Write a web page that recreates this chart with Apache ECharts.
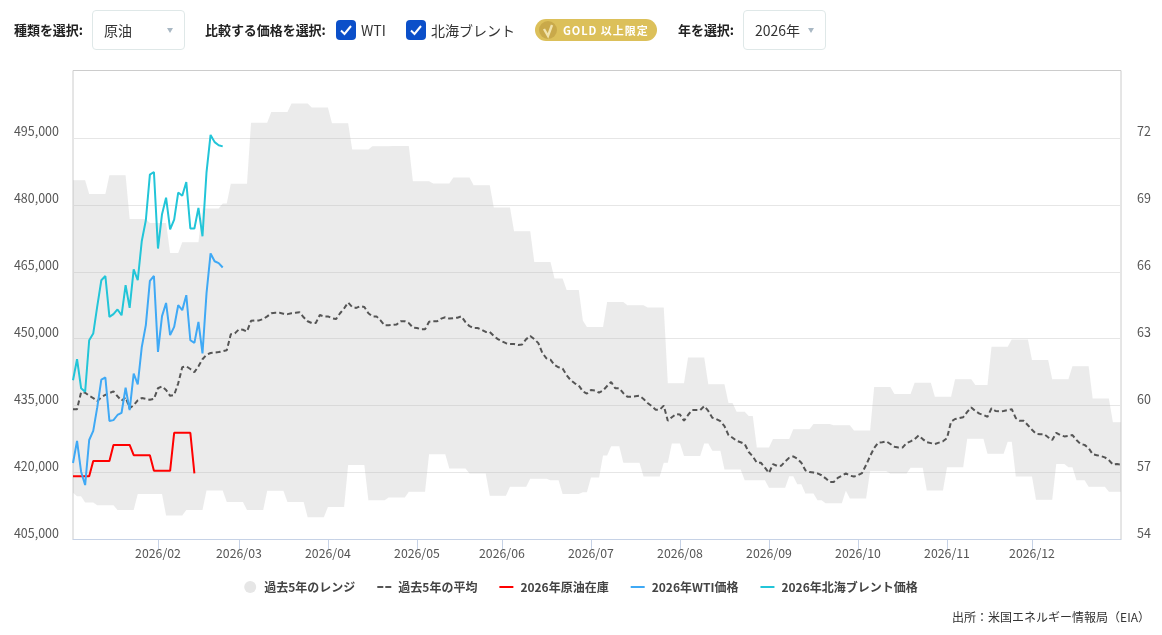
<!DOCTYPE html>
<html lang="ja"><head><meta charset="utf-8">
<script src="https://cdn.jsdelivr.net/npm/echarts@6/dist/echarts.min.js"></script>
<style>
html,body{margin:0;padding:0;background:#fff;width:1162px;height:635px;overflow:hidden;font-family:"Noto Sans CJK JP","Noto Sans",sans-serif;color:#222}
#chart{position:absolute;left:0;top:0;width:1162px;height:635px}
.t{position:absolute;white-space:nowrap;line-height:20px}
.b{font-weight:700;font-size:13px;top:20px;color:#222;letter-spacing:-.05px}
.sel{position:absolute;top:10px;height:38px;border:1px solid #dfe8e8;border-radius:4px;background:#fff}
.car{position:absolute;top:28px;width:0;height:0;border-left:3.5px solid transparent;border-right:3.5px solid transparent;border-top:5px solid #a9b8c4}
.n{font-size:14px;top:20px;color:#333}
.cb{position:absolute;top:20px;width:20px;height:20px;border-radius:4px;background:#0b4fc9}
.cb svg{display:block}
.pill{position:absolute;left:535px;top:19px;width:122px;height:22px;border-radius:11px;background:#dcc05a}
.pill span{position:absolute;left:28px;top:1px;font-size:11px;font-weight:700;color:#fff;line-height:20px;white-space:nowrap;letter-spacing:.95px}
.pill svg{position:absolute;left:3px;top:1px}
.src{position:absolute;right:12px;top:607px;font-size:12px;line-height:20px;color:#333;white-space:nowrap}
</style></head><body>
<div id="chart"></div>
<div class="t b" style="left:14px">種類を選択:</div>
<div class="sel" style="left:92px;width:91px"></div><div class="t n" style="left:104px">原油</div><div class="car" style="left:167px"></div>
<div class="t b" style="left:205px">比較する価格を選択:</div>
<div class="cb" style="left:336px"><svg width="20" height="20"><path d="M5 10.5l3.5 3.5 6.5-8" stroke="#fff" stroke-width="2" fill="none"/></svg></div>
<div class="t n" style="left:361px">WTI</div>
<div class="cb" style="left:406px"><svg width="20" height="20"><path d="M5 10.5l3.5 3.5 6.5-8" stroke="#fff" stroke-width="2" fill="none"/></svg></div>
<div class="t n" style="left:431px">北海ブレント</div>
<div class="pill"><svg width="20" height="20"><circle cx="10" cy="10" r="9" fill="#c9a94a"/><path d="M6 9l4 7 4-11" stroke="#f1e3ad" stroke-width="2.4" fill="none"/></svg><span>GOLD 以上限定</span></div>
<div class="t b" style="left:678px">年を選択:</div>
<div class="sel" style="left:743px;width:81px"></div><div class="t n" style="left:755px">2026年</div><div class="car" style="left:808px"></div>
<div class="src">出所：米国エネルギー情報局（EIA）</div>
<script>
const monthLabels = ['2026/01','2026/02','2026/03','2026/04','2026/05','2026/06','2026/07','2026/08','2026/09','2026/10','2026/11','2026/12'];
const monthStarts = [0,21,41,63,85,106,128,150,172,194,216,237];
const dayCount = 260;
const leftTicks = [405000,420000,435000,450000,465000,480000,495000];
const rightTicks = [54,57,60,63,66,69,72];

const rangeHigh = [
485500,485500,485500,485500,
482400,482400,482400,482400,482400,
486600,486600,486600,486600,486600,
476800,476800,476800,476800,476800,
475900,475900,475900,475900,475900,
469200,469200,469200,
471600,471600,471600,471600,471600,
479200,479200,479200,479200,479200,
480300,480300,
484700,484700,484700,484700,484700,
498400,498400,498400,498400,498400,
500800,500800,500800,500800,500800,
502700,502700,502700,502700,502700,
501800,501800,501800,501800,501800,
498300,498300,498300,498300,498300,
492400,492400,492400,492400,492400,
493100,493100,493100,493100,493100,
493200,493200,493200,493200,493200,
485300,485300,485300,485300,485300,
484800,484800,484800,484800,484800,
486100,486100,486100,486100,486100,
484400,484400,484400,484400,484400,
479400,479400,479400,479400,479400,
474100,474100,474100,474100,474100,
467200,467200,467200,467200,467200,
463500,463500,463500,
460900,460900,460900,460900,
454100,
452600,452600,452600,452600,452600,
458200,458200,458200,458200,458200,
457500,457500,457500,457500,457500,
457000,457000,457000,457000,457000,
440000,440000,440000,440000,440000,
445800,445800,445800,445800,445800,
439800,439800,439800,439800,439800,
435600,435600,
433600,433600,433600,
432700,432700,
425600,425600,425600,425600,
427500,427500,427500,427500,427500,
429700,429700,429700,429700,429700,
430900,430900,430900,430900,430900,
430600,430600,430600,430600,430600,
429400,429400,429400,429400,429400,
439200,439200,439200,439200,439200,
437600,437600,437600,437600,437600,
440100,440100,440100,440100,440100,
437000,437000,437000,437000,437000,
440900,440900,440900,440900,440900,
439600,439600,439600,439600,
448200,448200,448200,448200,448200,
449800,449800,449800,449800,449800,
445200,445200,445200,445200,445200,
440900,440900,440900,440900,440900,
443800,443800,443800,443800,443800,
436600,436600,436600,436600,436600,
431300,431300,431300];

const rangeLow = [
415500,
414700,414700,
413300,413300,413300,
412700,412700,412700,412700,412700,
411600,411600,411600,411600,411600,
415200,415200,415200,415200,415200,415200,415200,
410400,410400,410400,410400,410400,
411600,411600,411600,411600,411600,
416000,416000,416000,416000,416000,
413400,413400,413400,413400,413400,
411600,411600,411600,411600,411600,
415900,415900,415900,415900,415900,
413400,413400,413400,413400,413400,
410000,410000,410000,410000,410000,
412300,412300,412300,412300,412300,
421700,421700,421700,421700,421700,
413800,413800,413800,413800,413800,
414400,414400,414400,414400,414400,
415700,415700,415700,415700,415700,
424100,424100,424100,424100,424100,
420900,420900,420900,420900,420900,
419800,419800,419800,419800,419800,
414800,414800,414800,414800,414800,
416800,416800,416800,416800,416800,
418600,418600,418600,418600,418600,
418300,418300,418300,
415200,415200,415200,415200,415200,
415600,415600,
418900,418900,418900,
423800,423800,
425900,425900,425900,
422200,422200,422200,422200,422200,
419100,419100,419100,419100,419100,
422200,422200,
426500,426500,426500,
423700,423700,423700,423700,423700,
426500,426500,
424900,424900,424900,
420700,420700,420700,420700,420700,
418300,418300,418300,418300,418300,418300,
416600,416600,416600,416600,416600,
419200,419200,
417400,417400,
415300,415300,415300,
413800,413800,
413100,413100,413100,413100,413100,
415900,
414200,414200,414200,414200,414200,
420300,420300,420300,420300,420300,
419800,419800,419800,419800,419800,
421100,421100,421100,421100,
416000,416000,416000,416000,416000,
421200,421200,421200,421200,421200,
427600,427600,427600,427600,427600,
424200,424200,424200,424200,424200,
426900,426900,
419100,419100,419100,419100,419100,
413900,413900,413900,413900,413900,
421900,421900,421900,
421200,421200,
418300,418300,418300,
416800,416800,416800,416800,416800,
415700,415700,415700,415700];

const averageValues = [
434200,434200,438000,437900,437200,436700,436000,436900,437400,437800,
438200,437100,436100,436900,434400,435100,436200,436700,436500,436300,
436500,438900,439300,438500,437200,437400,440000,443600,443800,443200,
442500,443800,445400,446400,446800,446900,447000,447200,447400,451000,
451200,452100,452000,451600,454000,454100,454100,454400,455000,455700,
455800,455800,455600,455500,455700,455800,455900,454800,453900,453500,
453500,455300,455000,455000,454600,454400,455700,456800,458100,457100,
456900,457300,457100,455700,455000,455000,454100,453000,453000,453100,
453200,453900,453900,453500,452500,452400,452100,452100,453800,453900,
453900,454500,454800,454500,454600,454700,455000,453700,452800,452400,
452400,452000,451500,451500,450600,449900,449400,449000,448800,448800,
448600,448700,449900,450600,449900,449000,446800,445600,445300,444100,
443600,443300,441800,440700,440000,439500,438200,437700,438500,438400,
437900,438400,439400,440300,438900,438900,437800,437000,437000,437100,
437200,436500,435600,434900,434100,434100,435000,431600,432400,433100,
433000,431600,432900,434000,434000,434000,434900,433800,432300,432000,
431500,430400,428400,427800,427100,426800,426400,424600,423600,422200,
422200,421100,419900,421900,421500,421500,422500,423300,423600,423100,
422200,420500,420100,420000,419800,419400,418700,417900,417900,418800,
419300,419800,419300,419100,419400,419900,421700,423700,425500,426700,
426800,427000,426400,425800,425600,425600,426600,427000,427500,428300,
427500,426800,426600,426400,426700,427000,427700,431400,432000,432200,
432400,433600,434600,433800,433200,432900,432500,434400,433800,433700,
433800,434000,434200,432200,431600,431600,430600,429600,428700,428600,
428600,427900,427300,428900,428400,428100,428200,428400,427300,426400,
426200,425500,424100,423900,423700,423400,422800,421800,421900,421800];

const crudeStock2026 = [
419200,419200,419200,419200,419200,
422600,422600,422600,422600,422600,
426200,426200,426200,426200,426200,
423900,423900,423900,423900,423900,
420400,420400,420400,420400,420400,
428900,428900,428900,428900,428900,
419800];

const wti2026 = [
57.43,58.42,57.04,56.44,58.46,58.87,59.93,61.17,61.26,59.31,
59.35,59.58,59.68,60.80,59.80,61.44,60.95,62.63,63.61,65.59,
65.81,62.41,64.01,64.60,63.16,63.53,64.50,64.28,64.95,62.93,
62.81,63.75,62.34,65.04,66.82,66.47,66.39,66.19];

const brent2026 = [
61.14,62.08,60.78,60.62,62.93,63.23,64.46,65.62,65.81,63.98,
64.10,64.31,64.05,65.40,64.38,66.11,65.62,67.38,68.31,70.35,
70.47,67.04,68.58,69.32,67.90,68.34,69.55,69.41,70.02,67.94,
67.94,68.86,67.59,70.47,72.13,71.81,71.67,71.62];

const seriesNames = ['過去5年のレンジ','過去5年の平均','2026年原油在庫','2026年WTI価格','2026年北海ブレント価格'];

const categories = [];
for (let i = 0, m = 0; i < dayCount; i++) {
  if (m + 1 < monthStarts.length && i >= monthStarts[m + 1]) m++;
  categories.push(monthLabels[m]);
}
const isMonthStart = (i) => i !== 0 && monthStarts.includes(i);
const rangeSpan = rangeHigh.map((v, i) => v - rangeLow[i]);
const FONT = '"Noto Sans CJK JP","Noto Sans",sans-serif';
const ICON_SOLID = 'path://M0 0L0 0M14 12L14 12M0 5H14V7H0Z';
const ICON_DASH = 'path://M0 0L0 0M14 12L14 12M0 5H6V7H0ZM8 5H14V7H8Z';

const chart = echarts.init(document.getElementById('chart'), null, {renderer:'canvas'});
chart.setOption({
  animation:false,
  textStyle:{fontFamily:FONT},
  grid:{left:73,right:41,top:70.5,bottom:95.5,show:true,borderColor:'#cccccc',borderWidth:1,backgroundColor:'transparent'},
  legend:{
    bottom:37,left:'center',itemGap:22,itemWidth:14,itemHeight:12,
    textStyle:{fontFamily:FONT,fontSize:12,fontWeight:700,color:'#444',padding:[0,0,0,2]},
    data:[
      {name:seriesNames[0],icon:'circle'},
      {name:seriesNames[1],icon:ICON_DASH},
      {name:seriesNames[2],icon:ICON_SOLID},
      {name:seriesNames[3],icon:ICON_SOLID},
      {name:seriesNames[4],icon:ICON_SOLID}
    ]
  },
  xAxis:{
    type:'category',data:categories,boundaryGap:false,
    axisLine:{lineStyle:{color:'#c6d2e6',width:1}},
    axisTick:{alignWithLabel:true,interval:isMonthStart,length:10,lineStyle:{color:'#c6d2e6',width:1}},
    axisLabel:{interval:isMonthStart,color:'#555',fontSize:12.3,fontFamily:FONT,margin:8},
    splitLine:{show:false}
  },
  yAxis:[
    {type:'value',min:405000,max:510100,
     axisLine:{show:false},axisTick:{show:false,customValues:leftTicks},
     splitLine:{lineStyle:{color:'#e6e6e6',width:1}},
     axisLabel:{customValues:leftTicks,color:'#555',fontSize:12.5,fontFamily:FONT,margin:14,verticalAlign:'bottom',
       formatter:(v)=> v.toLocaleString('en-US')}},
    {type:'value',min:54,max:75.02,position:'right',
     axisLine:{show:false},axisTick:{show:false,customValues:rightTicks},splitLine:{show:false},
     axisLabel:{customValues:rightTicks,color:'#555',fontSize:12.5,fontFamily:FONT,margin:16,verticalAlign:'bottom',
       formatter:(v)=> String(v)}}
  ],
  series:[
    {name:'rangeBase',type:'line',stack:'range',data:rangeLow,symbol:'none',lineStyle:{width:0},areaStyle:{opacity:0},silent:true,z:1},
    {name:seriesNames[0],type:'line',stack:'range',data:rangeSpan,symbol:'none',lineStyle:{width:0},
      itemStyle:{color:'#e6e6e6'},areaStyle:{color:'#b4b4b4',opacity:0.27},silent:true,z:1},
    {name:seriesNames[1],type:'line',data:averageValues,symbol:'none',z:3,
      itemStyle:{color:'#555'},lineStyle:{color:'#555',width:2,type:[5,3]}},
    {name:seriesNames[2],type:'line',data:crudeStock2026,symbol:'none',z:4,
      itemStyle:{color:'#ff0000'},lineStyle:{color:'#ff0000',width:2}},
    {name:seriesNames[3],type:'line',yAxisIndex:1,data:wti2026,symbol:'none',z:5,
      itemStyle:{color:'#3fa9f5'},lineStyle:{color:'#3fa9f5',width:2}},
    {name:seriesNames[4],type:'line',yAxisIndex:1,data:brent2026,symbol:'none',z:6,
      itemStyle:{color:'#22c5d8'},lineStyle:{color:'#22c5d8',width:2}}
  ]
});
</script>
</body></html>
